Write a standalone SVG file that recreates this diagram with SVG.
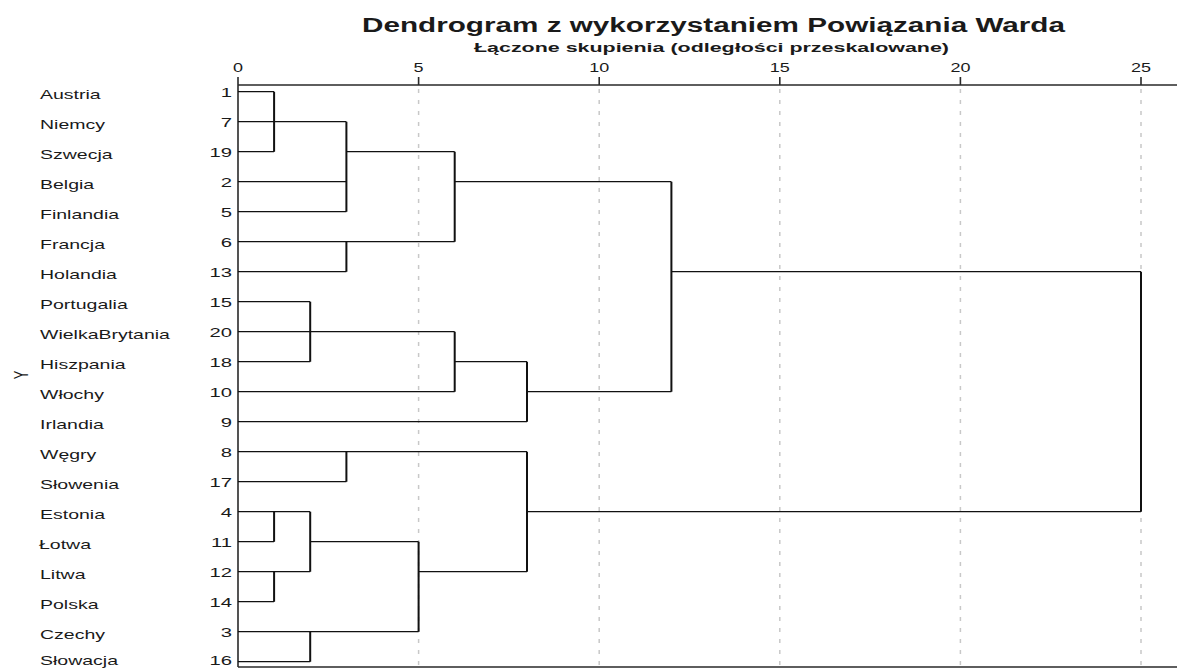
<svg xmlns="http://www.w3.org/2000/svg" width="1177" height="668" viewBox="0 0 1177 668">
<style>
text{font-family:"Liberation Sans",Arial,sans-serif;fill:#1a1a1a}
.nm{font-size:13px}
.num{font-size:13.5px;text-anchor:end}
.tick{font-size:12px;text-anchor:middle}
.grid{stroke:#c8c8c8;stroke-width:1.5;stroke-dasharray:4 7;fill:none}
.ax{stroke:#2a2a2a;stroke-width:1.6;fill:none}
.h{stroke:#111;stroke-width:1.3;fill:none}
.v{stroke:#111;stroke-width:2;fill:none}
</style>
<rect width="1177" height="668" fill="#fff"/>
<g id="title">
<text x="362" y="32" font-size="19.5" font-weight="bold" textLength="703" lengthAdjust="spacingAndGlyphs">Dendrogram z wykorzystaniem Powiązania Warda</text>
<text x="474" y="52" font-size="12.5" font-weight="bold" textLength="475" lengthAdjust="spacingAndGlyphs">Łączone skupienia (odległości przeskalowane)</text>
</g>
<g id="grid">
<path class="grid" d="M418.6 89V666M599.2 89V666M779.8 89V666M960.4 89V666M1141 89V666"/>
</g>
<g id="axes">
<path class="ax" d="M238 85H1177M238 85V667M238 667H1177"/>
<path class="ax" stroke-width="2" d="M238 77V85M418.6 77V85M599.2 77V85M779.8 77V85M960.4 77V85M1141 77V85"/>
<g transform="scale(1.5,1)">
<text class="tick" x="158.67" y="72">0</text>
<text class="tick" x="279.07" y="72">5</text>
<text class="tick" x="399.47" y="72">10</text>
<text class="tick" x="519.87" y="72">15</text>
<text class="tick" x="640.27" y="72">20</text>
<text class="tick" x="760.67" y="72">25</text>
<text class="nm" text-anchor="middle" transform="translate(18.67,375) rotate(-90)">Y</text>
</g>
</g>
<g id="n1" transform="scale(1.5,1)"><text class="nm" x="26.67" y="99">Austria</text><text class="num" x="154.67" y="96.7">1</text></g>
<g id="n7" transform="scale(1.5,1)"><text class="nm" x="26.67" y="129">Niemcy</text><text class="num" x="154.67" y="126.7">7</text></g>
<g id="n19" transform="scale(1.5,1)"><text class="nm" x="26.67" y="159">Szwecja</text><text class="num" x="154.67" y="156.7">19</text></g>
<g id="n2" transform="scale(1.5,1)"><text class="nm" x="26.67" y="189">Belgia</text><text class="num" x="154.67" y="186.7">2</text></g>
<g id="n5" transform="scale(1.5,1)"><text class="nm" x="26.67" y="219">Finlandia</text><text class="num" x="154.67" y="216.7">5</text></g>
<g id="n6" transform="scale(1.5,1)"><text class="nm" x="26.67" y="249">Francja</text><text class="num" x="154.67" y="246.7">6</text></g>
<g id="n13" transform="scale(1.5,1)"><text class="nm" x="26.67" y="279">Holandia</text><text class="num" x="154.67" y="276.7">13</text></g>
<g id="n15" transform="scale(1.5,1)"><text class="nm" x="26.67" y="309">Portugalia</text><text class="num" x="154.67" y="306.7">15</text></g>
<g id="n20" transform="scale(1.5,1)"><text class="nm" x="26.67" y="339">WielkaBrytania</text><text class="num" x="154.67" y="336.7">20</text></g>
<g id="n18" transform="scale(1.5,1)"><text class="nm" x="26.67" y="369">Hiszpania</text><text class="num" x="154.67" y="366.7">18</text></g>
<g id="n10" transform="scale(1.5,1)"><text class="nm" x="26.67" y="399">Włochy</text><text class="num" x="154.67" y="396.7">10</text></g>
<g id="n9" transform="scale(1.5,1)"><text class="nm" x="26.67" y="429">Irlandia</text><text class="num" x="154.67" y="426.7">9</text></g>
<g id="n8" transform="scale(1.5,1)"><text class="nm" x="26.67" y="459">Węgry</text><text class="num" x="154.67" y="456.7">8</text></g>
<g id="n17" transform="scale(1.5,1)"><text class="nm" x="26.67" y="489">Słowenia</text><text class="num" x="154.67" y="486.7">17</text></g>
<g id="n4" transform="scale(1.5,1)"><text class="nm" x="26.67" y="519">Estonia</text><text class="num" x="154.67" y="516.7">4</text></g>
<g id="n11" transform="scale(1.5,1)"><text class="nm" x="26" y="549">Łotwa</text><text class="num" x="154.67" y="546.7">11</text></g>
<g id="n12" transform="scale(1.5,1)"><text class="nm" x="26.67" y="579">Litwa</text><text class="num" x="154.67" y="576.7">12</text></g>
<g id="n14" transform="scale(1.5,1)"><text class="nm" x="26.67" y="609">Polska</text><text class="num" x="154.67" y="606.7">14</text></g>
<g id="n3" transform="scale(1.5,1)"><text class="nm" x="26.67" y="639">Czechy</text><text class="num" x="154.67" y="636.7">3</text></g>
<g id="n16" transform="scale(1.5,1)"><text class="nm" x="26.67" y="665.5">Słowacja</text><text class="num" x="154.67" y="665.5">16</text></g>
<g id="connectors">
<path class="h" d="M238 91.7H274.1M238 151.7H274.1M238 121.7H346.4M238 181.7H346.4M238 211.7H346.4M346.4 151.7H454.7M238 241.7H454.7M238 271.7H346.4M454.7 181.7H671.4
M238 301.7H310.2M238 331.7H454.7M238 361.7H310.2M238 391.7H454.7M454.7 361.7H527M238 421.7H527M527 391.7H671.4M671.4 271.7H1141
M238 451.7H527M238 481.7H346.4M238 511.7H310.2M238 541.7H274.1M238 571.7H310.2M238 601.7H274.1M310.2 541.7H418.6M238 631.7H418.6M238 661.7H310.2M418.6 571.7H527M527 511.7H1141"/>
<path class="v" d="M274.1 91.7V151.7M346.4 121.7V211.7M346.4 241.7V271.7M454.7 151.7V241.7
M310.2 301.7V361.7M454.7 331.7V391.7M527 361.7V421.7M671.4 181.7V391.7
M346.4 451.7V481.7M274.1 511.7V541.7M274.1 571.7V601.7M310.2 511.7V571.7M310.2 631.7V661.7M418.6 541.7V631.7M527 451.7V571.7M1141 271.7V511.7"/>
</g>
</svg>
